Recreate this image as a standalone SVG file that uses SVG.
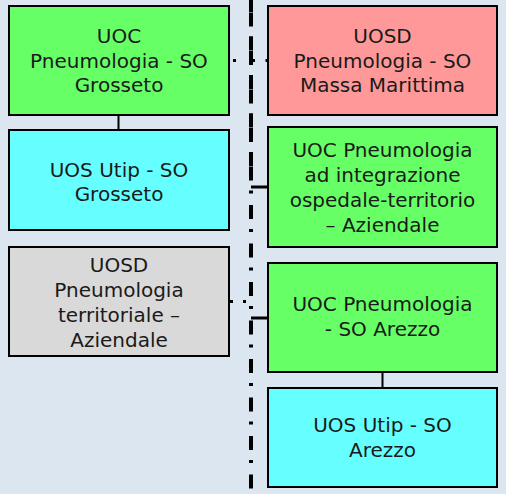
<svg xmlns="http://www.w3.org/2000/svg" width="506" height="494" viewBox="0 0 506 494">
<style>
.bx{stroke:#000;stroke-width:2}
.g{fill:#66ff66}.r{fill:#ff9999}.c{fill:#66ffff}.s{fill:#d9d9d9}
text{font-family:"DejaVu Sans",Verdana,sans-serif;font-size:20px;fill:#1a1a1a;text-anchor:middle}
.sol{stroke:#000;stroke-width:3;fill:none}
.tree{stroke:#000;stroke-width:2;fill:none}
.dd{stroke:#000;stroke-width:4;fill:none;stroke-dasharray:14 10 3 11.5}
.dot{stroke:#000;stroke-width:3;fill:none}
</style>
<rect width="506" height="494" fill="#dce6f1"/>
<g id="connectors">
<path class="dd" d="M251 0V494" stroke-dashoffset="26"/>
<path class="dd" d="M251 0V180" stroke-dashoffset="2"/>
<path class="tree" d="M118.5 115V130"/>
<path class="tree" d="M382.5 372V388"/>
<path class="dot" d="M233 60.5h3M249 60.5h6M265.5 60.5h3"/>
<path class="dot" d="M230 301.5h3M243 301.5h3"/>
<path class="sol" d="M251 187H268"/>
<path class="sol" d="M251 318H268"/>
</g>
<g id="n1"><rect class="bx g" x="9" y="6" width="220" height="109"/>
<text x="119" y="43">UOC</text><text x="119" y="67.5">Pneumologia - SO</text><text x="119" y="92">Grosseto</text></g>
<g id="n2"><rect class="bx c" x="9" y="130" width="220" height="100"/>
<text x="119" y="177">UOS Utip - SO</text><text x="119" y="201">Grosseto</text></g>
<g id="n3"><rect class="bx s" x="9" y="247" width="220" height="109"/>
<text x="119" y="272">UOSD</text><text x="119" y="297">Pneumologia</text><text x="119" y="322">territoriale –</text><text x="119" y="347">Aziendale</text></g>
<g id="n4"><rect class="bx r" x="268" y="6" width="229" height="109"/>
<text x="382.5" y="43">UOSD</text><text x="382.5" y="67.5">Pneumologia - SO</text><text x="382.5" y="92">Massa Marittima</text></g>
<g id="n5"><rect class="bx g" x="268" y="127" width="229" height="120"/>
<text x="382.5" y="157">UOC Pneumologia</text><text x="382.5" y="182">ad integrazione</text><text x="382.5" y="207">ospedale-territorio</text><text x="382.5" y="232">– Aziendale</text></g>
<g id="n6"><rect class="bx g" x="268" y="263" width="229" height="109"/>
<text x="382.5" y="311">UOC Pneumologia</text><text x="382.5" y="336">- SO Arezzo</text></g>
<g id="n7"><rect class="bx c" x="268" y="388" width="229" height="99"/>
<text x="382.5" y="432">UOS Utip - SO</text><text x="382.5" y="457">Arezzo</text></g>
</svg>
